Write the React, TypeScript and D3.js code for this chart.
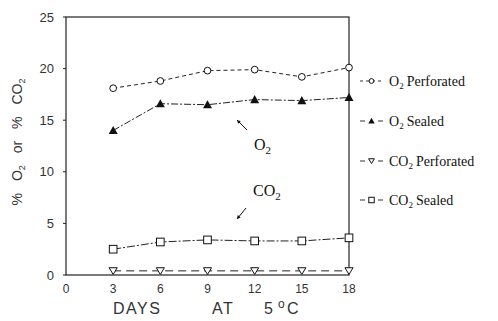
import React, { useRef, useEffect } from 'react';
import * as d3 from 'd3';

const days = [3, 6, 9, 12, 15, 18];
const o2Perforated = [18.1, 18.8, 19.8, 19.9, 19.2, 20.1];
const o2Sealed = [14.0, 16.6, 16.5, 17.0, 16.9, 17.2];
const co2Perforated = [0.4, 0.4, 0.4, 0.4, 0.4, 0.4];
const co2Sealed = [2.5, 3.2, 3.4, 3.3, 3.3, 3.6];
const xTicks = [0, 3, 6, 9, 12, 15, 18];
const yTicks = [0, 5, 10, 15, 20, 25];

const series = [
  { gas: 'O', name: 'Perforated', values: o2Perforated, marker: 'circle', dash: '4,3' },
  { gas: 'O', name: 'Sealed', values: o2Sealed, marker: 'triangle', dash: '7,2,2,2' },
  { gas: 'CO', name: 'Perforated', values: co2Perforated, marker: 'triangleDown', dash: '8,5' },
  { gas: 'CO', name: 'Sealed', values: co2Sealed, marker: 'square', dash: '8,2,2,2' },
];

export default function App() {
  const ref = useRef<SVGSVGElement>(null);

  useEffect(() => {
    const svg = d3.select(ref.current);
    svg.selectAll('*').remove();
    const W = 498, H = 321;
    svg.attr('width', W).attr('height', H).attr('viewBox', `0 0 ${W} ${H}`);

    const x = d3.scaleLinear().domain([0, 18]).range([66, 349]);
    const y = d3.scaleLinear().domain([0, 25]).range([275, 17]);
    const sans = 'Liberation Sans, Arial, sans-serif';
    const serif = 'Liberation Serif, Times New Roman, serif';

    // frame
    svg.append('rect')
      .attr('x', x(0)).attr('y', y(25))
      .attr('width', x(18) - x(0)).attr('height', y(0) - y(25))
      .attr('fill', 'none').attr('stroke', '#222').attr('stroke-width', 1.2);

    // ticks
    yTicks.forEach(t => {
      svg.append('line')
        .attr('x1', x(0) - 3).attr('x2', x(0)).attr('y1', y(t)).attr('y2', y(t))
        .attr('stroke', '#222');
      svg.append('text')
        .attr('x', x(0) - 12).attr('y', y(t)).attr('dy', '0.35em')
        .attr('text-anchor', 'end')
        .style('font-family', sans).style('font-size', '13px').attr('fill', '#333')
        .text(t);
    });
    xTicks.forEach(t => {
      svg.append('text')
        .attr('x', x(t)).attr('y', 293)
        .attr('text-anchor', 'middle')
        .style('font-family', sans).style('font-size', '12px').attr('fill', '#333')
        .text(t);
    });

    // axis titles
    const xt = svg.append('text').attr('y', 314)
      .style('font-family', sans).style('font-size', '16px').attr('fill', '#333')
      .style('letter-spacing', '1.5px');
    xt.append('tspan').attr('x', 113).text('DAYS');
    xt.append('tspan').attr('x', 212).text('AT');
    xt.append('tspan').attr('x', 264).text('5');
    xt.append('tspan').attr('x', 278).attr('dy', -6).style('font-size', '12px').text('o');
    xt.append('tspan').attr('x', 287).attr('dy', 6).text('C');

    const yt = svg.append('text')
      .attr('transform', 'translate(22,142) rotate(-90)')
      .attr('text-anchor', 'middle')
      .style('font-family', sans).style('font-size', '14px').attr('fill', '#333')
      .style('word-spacing', '8px');
    yt.append('tspan').text('% O');
    yt.append('tspan').attr('dy', 3).style('font-size', '9px').text('2');
    yt.append('tspan').attr('dy', -3).text(' or % CO');
    yt.append('tspan').attr('dy', 3).style('font-size', '9px').text('2');

    const drawMarker = (g: any, kind: string, cx: number, cy: number, s: number) => {
      if (kind === 'circle') {
        g.append('circle').attr('cx', cx).attr('cy', cy).attr('r', s * 0.75)
          .attr('fill', 'white').attr('stroke', '#111').attr('stroke-width', 1);
      } else if (kind === 'triangle') {
        g.append('path')
          .attr('d', `M${cx},${cy - s}L${cx + s},${cy + s * 0.8}L${cx - s},${cy + s * 0.8}Z`)
          .attr('fill', '#111');
      } else if (kind === 'triangleDown') {
        g.append('path')
          .attr('d', `M${cx - s * 0.9},${cy - s * 0.7}L${cx + s * 0.9},${cy - s * 0.7}L${cx},${cy + s * 0.8}Z`)
          .attr('fill', 'white').attr('stroke', '#111').attr('stroke-width', 1);
      } else {
        g.append('rect').attr('x', cx - s * 0.85).attr('y', cy - s * 0.85)
          .attr('width', s * 1.7).attr('height', s * 1.7)
          .attr('fill', 'white').attr('stroke', '#111').attr('stroke-width', 1);
      }
    };

    const line = d3.line<number>().x((_, i) => x(days[i])).y(d => y(d));
    series.forEach(s => {
      svg.append('path').attr('d', line(s.values))
        .attr('fill', 'none').attr('stroke', '#222').attr('stroke-width', 1)
        .attr('stroke-dasharray', s.dash);
      const g = svg.append('g');
      s.values.forEach((v, i) => drawMarker(g, s.marker, x(days[i]), y(v), 4.5));
    });

    // legend
    const legY = [81, 121, 161, 200];
    series.forEach((s, i) => {
      const ly = legY[i];
      svg.append('line').attr('x1', 360).attr('x2', 383).attr('y1', ly).attr('y2', ly)
        .attr('stroke', '#333').attr('stroke-width', 1).attr('stroke-dasharray', s.dash === '4,3' ? '3,3' : '5,13');
      drawMarker(svg, s.marker, 371.5, ly, 3.2);
      const t = svg.append('text').attr('x', 389).attr('y', ly).attr('dy', '0.35em')
        .style('font-family', serif).style('font-size', '14px').attr('fill', '#111');
      t.append('tspan').text(s.gas);
      t.append('tspan').attr('dy', 3).style('font-size', '9px').text('2');
      t.append('tspan').attr('dy', -3).attr('dx', 3).text(s.name);
    });

    // annotations
    const ann = (label: string, tx: number, ty: number) => {
      const t = svg.append('text').attr('x', tx).attr('y', ty)
        .style('font-family', serif).style('font-size', '16px').attr('fill', '#111');
      t.append('tspan').text(label);
      t.append('tspan').attr('dy', 4).style('font-size', '11px').text('2');
    };
    ann('O', 254, 150);
    ann('CO', 253, 196);

    const arrow = (x1: number, y1: number, x2: number, y2: number) => {
      svg.append('line').attr('x1', x1).attr('y1', y1).attr('x2', x2).attr('y2', y2)
        .attr('stroke', '#111').attr('stroke-width', 1);
      const a = Math.atan2(y2 - y1, x2 - x1);
      const h = 4;
      const p1 = [x2 - h * Math.cos(a - 0.5), y2 - h * Math.sin(a - 0.5)];
      const p2 = [x2 - h * Math.cos(a + 0.5), y2 - h * Math.sin(a + 0.5)];
      svg.append('path').attr('d', `M${x2},${y2}L${p1[0]},${p1[1]}L${p2[0]},${p2[1]}Z`).attr('fill', '#111');
    };
    arrow(247, 130, 237, 120);
    arrow(246, 208, 237, 219);
  }, []);

  return <svg ref={ref} style={{ display: 'block', position: 'absolute', left: 0, top: 0 }} />;
}
